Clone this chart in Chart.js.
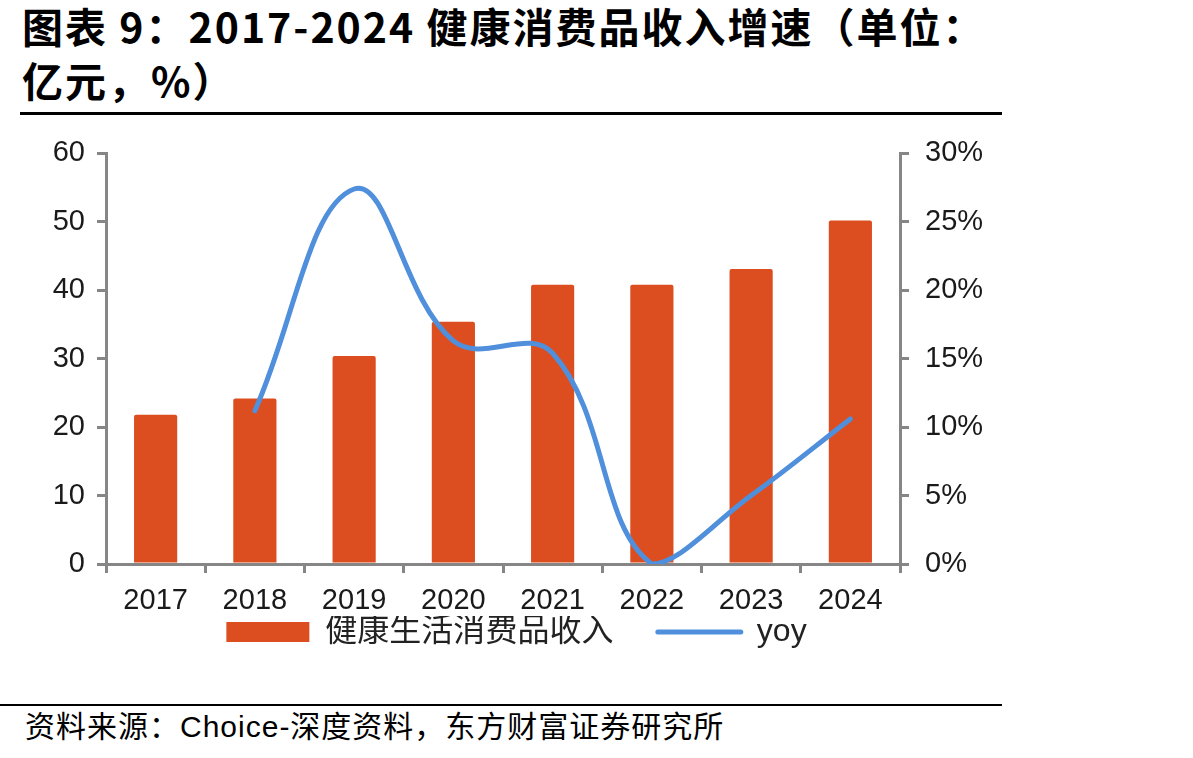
<!DOCTYPE html>
<html>
<head>
<meta charset="utf-8">
<script src="https://cdn.jsdelivr.net/npm/chart.js@4"></script>
<style>
  html, body { margin: 0; padding: 0; background: #fff; }
  body { width: 1193px; height: 758px; position: relative; overflow: hidden; }
  .title {
    position: absolute; left: 22px; top: -2px;
    font-family: "Noto Sans CJK SC", sans-serif; font-weight: 700;
    font-size: 41px; line-height: 54px; letter-spacing: 2px; color: #000;
    white-space: nowrap;
  }
  .rule-top { position: absolute; left: 20px; top: 112px; width: 982px; height: 3px; background: #000; }
  .rule-bottom { position: absolute; left: 0; top: 704px; width: 1002px; height: 2px; background: #000; }
  .source {
    position: absolute; left: 25px; top: 707px;
    font-family: "Liberation Sans", "Noto Sans CJK SC", sans-serif;
    font-size: 30px; line-height: 40px; letter-spacing: 1px; color: #000; white-space: nowrap;
  }
  .wrap { position: absolute; left: 0; top: 120px; width: 1000px; height: 542px; }
</style>
</head>
<body>
<div class="title">图表 9：2017-2024 健康消费品收入增速（单位：<br>亿元，%）</div>
<div class="rule-top"></div>
<div class="wrap"><canvas id="chart"></canvas></div>
<div class="rule-bottom"></div>
<div class="source">资料来源：Choice-深度资料，东方财富证券研究所</div>

<script>
const years = ['2017', '2018', '2019', '2020', '2021', '2022', '2023', '2024'];
const income = [21.8, 24.2, 30.4, 35.4, 40.8, 40.8, 43.1, 50.2];
const yoy = [null, 11.2, 27.4, 16.3, 15.4, 0, 5.0, 10.6];
const leftTicks = [0, 10, 20, 30, 40, 50, 60];
const rightTicks = [0, 5, 10, 15, 20, 25, 30];

const barColor = '#dc4e1f';
const lineColor = '#4f8fdb';
const axisColor = '#868686';
const tickFont = { family: '"Liberation Sans", "Noto Sans CJK SC", sans-serif', size: 29 };

new Chart(document.getElementById('chart'), {
  data: {
    labels: years,
    datasets: [
      {
        type: 'bar',
        label: '健康生活消费品收入',
        data: income,
        backgroundColor: barColor,
        borderRadius: 2,
        barPercentage: 0.435,
        categoryPercentage: 1,
        yAxisID: 'y',
        order: 2,
      },
      {
        type: 'line',
        label: 'yoy',
        data: yoy,
        borderColor: lineColor,
        borderWidth: 5,
        tension: 0.4,
        pointRadius: 0,
        borderCapStyle: 'round',
        clip: 0,
        yAxisID: 'y1',
        order: 1,
      },
    ],
  },
  options: {
    responsive: true,
    maintainAspectRatio: false,
    animation: false,
    layout: { padding: { left: 33, right: 0, top: 12, bottom: 4 } },
    plugins: {
      tooltip: { enabled: false },
      legend: {
        position: 'bottom',
        labels: {
          usePointStyle: true,
          pointStyleWidth: 83,
          boxHeight: 20,
          padding: 0,
          color: '#222',
          font: { family: '"Liberation Sans", "Noto Sans CJK SC", sans-serif', size: 32 },
          generateLabels: chart => chart.data.datasets.map((ds, i) => ({
            text: ds.type === 'bar' ? ds.label + '     ' : ds.label,
            fillStyle: ds.type === 'bar' ? barColor : lineColor,
            strokeStyle: ds.type === 'bar' ? barColor : lineColor,
            lineWidth: ds.type === 'bar' ? 0 : 5,
            lineCap: 'round',
            pointStyle: ds.type === 'bar' ? 'rect' : 'line',
            fontColor: '#222',
            hidden: false,
            datasetIndex: i,
          })),
        },
      },
    },
    scales: {
      x: {
        offset: true,
        grid: { offset: true, drawOnChartArea: false, drawTicks: true, tickLength: 9, color: axisColor, lineWidth: 3 },
        border: { display: true, color: axisColor, width: 3 },
        ticks: { color: '#1a1a1a', font: tickFont, padding: 11, maxRotation: 0 },
        afterFit: s => { s.height = 52; },
      },
      y: {
        position: 'left',
        min: 0, max: 60,
        afterBuildTicks: s => { s.ticks = leftTicks.map(v => ({ value: v })); },
        grid: { drawOnChartArea: false, drawTicks: true, tickLength: 9, color: axisColor, lineWidth: 3 },
        border: { display: true, color: axisColor, width: 3 },
        ticks: { color: '#1a1a1a', font: tickFont, padding: 12 },
        afterFit: s => { s.width = 73; },
      },
      y1: {
        position: 'right',
        min: 0, max: 30,
        afterBuildTicks: s => { s.ticks = rightTicks.map(v => ({ value: v })); },
        grid: { drawOnChartArea: false, drawTicks: true, tickLength: 9, color: axisColor, lineWidth: 3 },
        border: { display: true, color: axisColor, width: 3 },
        ticks: { color: '#1a1a1a', font: tickFont, padding: 16, callback: v => v + '%' },
        afterFit: s => { s.width = 100; },
      },
    },
  },
});
</script>
</body>
</html>
